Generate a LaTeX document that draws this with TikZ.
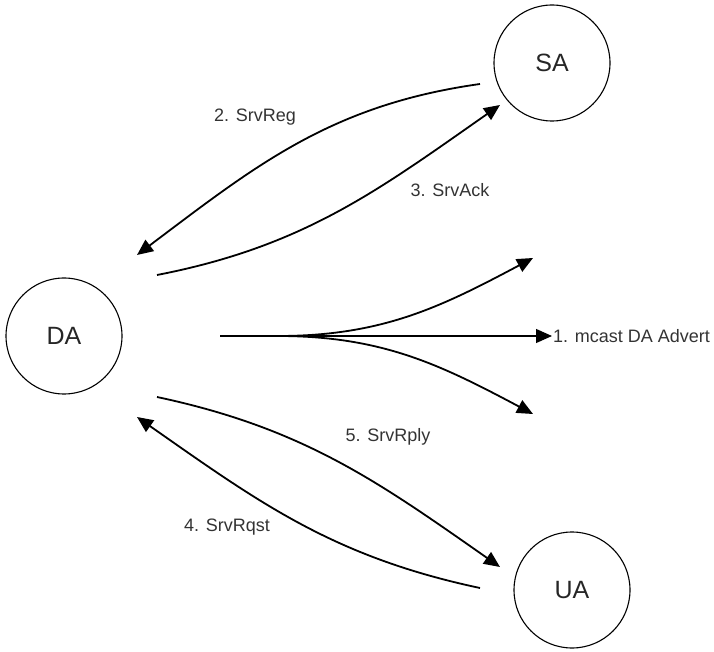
\documentclass[tikz,border=0pt]{standalone}
\usepackage{fontspec}
\setmainfont{Liberation Sans}
\usetikzlibrary{arrows.meta}
\begin{document}
\begin{tikzpicture}[x=1pt,y=1pt,
    agent/.style={draw,circle,line width=1.1pt,minimum size=116pt,inner sep=0pt,
      font=\fontsize{25}{28}\selectfont,text=black!85},
    msg/.style={line width=1.8pt,-{Triangle[length=16pt,width=14pt]}},
    lbl/.style={font=\fontsize{18}{20}\selectfont,text=black!80}]
    \useasboundingbox (0,0) rectangle (714,651);
    % agents
    \node[agent] (da) at (64,315) {DA};
    \node[agent] (sa) at (552,588) {SA};
    \node[agent] (ua) at (572,61) {UA};
    % free ends of the messages
    \coordinate (reg-s) at (480,567);
    \coordinate (reg-e) at (137,396);
    \coordinate (ack-s) at (157,376);
    \coordinate (ack-e) at (500,546);
    \coordinate (rply-s) at (157,254);
    \coordinate (rply-e) at (500,84);
    \coordinate (rqst-s) at (480,63);
    \coordinate (rqst-e) at (137,234);
    \coordinate (bc-s) at (220,315);
    \coordinate (bc-f) at (278,315);
    \coordinate (bc-up) at (533,393);
    \coordinate (bc-dn) at (533,237);
    % 1. multicast
    \node[lbl,anchor=west,inner sep=1pt] (advert) at (552,315) {1. mcast DA Advert};
    \draw[line width=1.2pt,-{Triangle[length=16pt,width=14pt]}] (bc-s) -- (advert.west);
    \draw[msg] (bc-f) to[out=0,in=208] (bc-up);
    \draw[msg] (bc-f) to[out=0,in=152] (bc-dn);
    % 2./3. registration
    \draw[msg] (reg-s) to[out=188,in=37] (reg-e);
    \draw[msg] (ack-s) to[out=11,in=215] (ack-e);
    \node[lbl] (reg) at (255,534) {2. SrvReg};
    \node[lbl] (ack) at (450,461) {3. SrvAck};
    % 4./5. request and reply
    \draw[msg] (rqst-s) to[out=168,in=325] (rqst-e);
    \draw[msg] (rply-s) to[out=-12,in=145] (rply-e);
    \node[lbl] (rqst) at (227,124) {4. SrvRqst};
    \node[lbl] (rply) at (388,214) {5. SrvRply};
\end{tikzpicture}
\end{document}
